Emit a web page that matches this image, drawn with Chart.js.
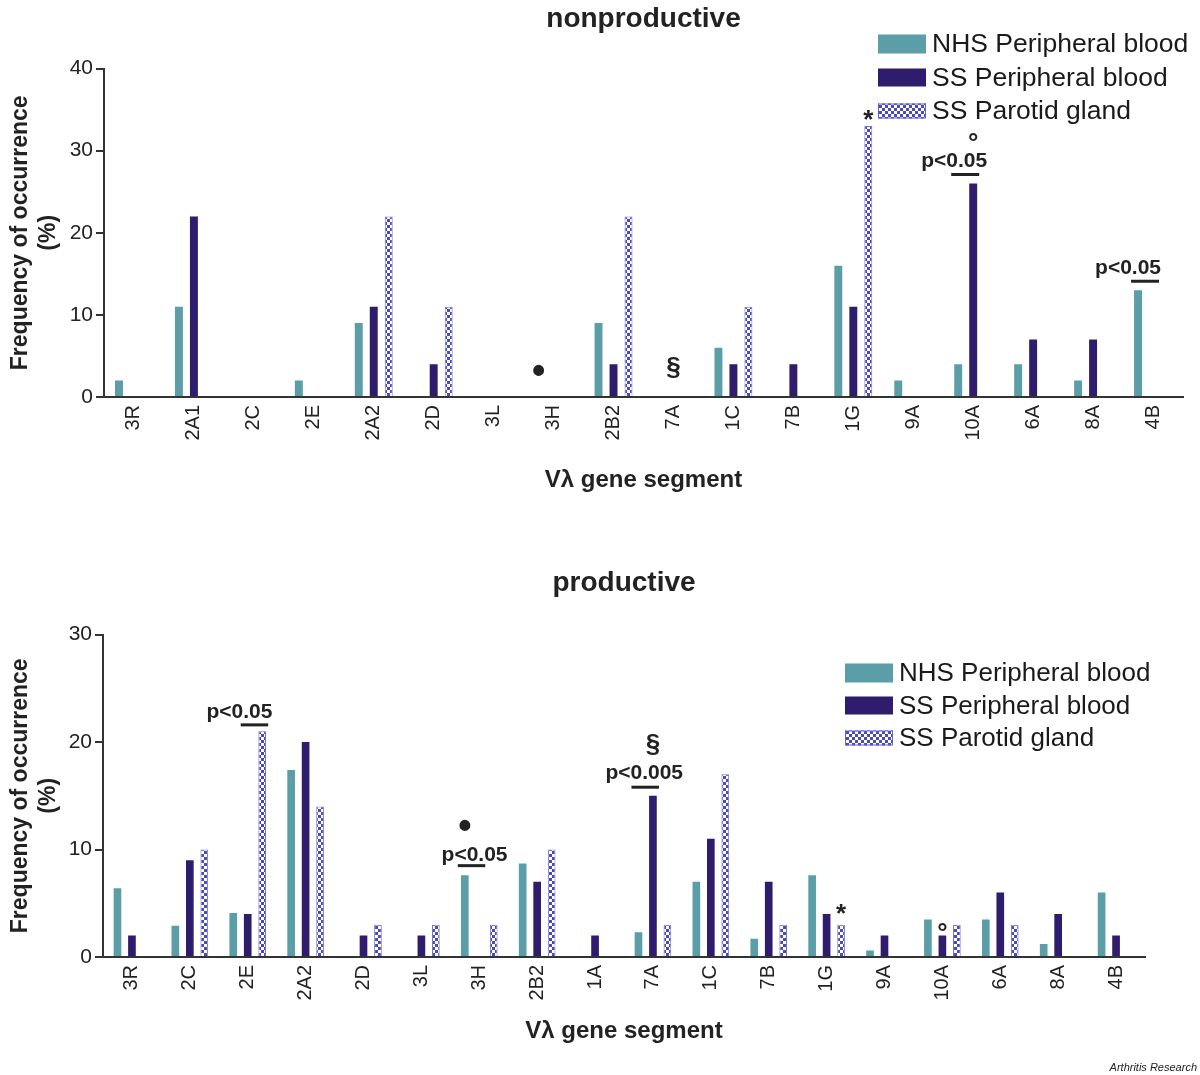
<!DOCTYPE html>
<html>
<head>
<meta charset="utf-8">
<script src="https://cdn.jsdelivr.net/npm/chart.js@4.4.0/dist/chart.umd.min.js"></script>
<style>
  body { margin: 0; background: #fff; }
  #wrap { position: relative; width: 1200px; height: 1075px; overflow: hidden; }
  #c1 { position: absolute; left: 0; top: 0; }
  #c2 { position: absolute; left: 0; top: 545px; }
  #credit { position: absolute; right: 3px; top: 1061px; font: italic 11px "Liberation Sans", Arial, sans-serif; color: #222; }
</style>
</head>
<body>
<div id="wrap">
  <canvas id="c1" width="1200" height="520"></canvas>
  <canvas id="c2" width="1200" height="530"></canvas>
  <div id="credit">Arthritis Research</div>
</div>
<script>
// series names (legend)
const seriesNames = ['NHS Peripheral blood', 'SS Peripheral blood', 'SS Parotid gland'];

// nonproductive rearrangements
const nonprodGenes = ['3R','2A1','2C','2E','2A2','2D','3L','3H','2B2','7A','1C','7B','1G','9A','10A','6A','8A','4B'];
const nonprodNHS     = [2, 11, 0, 2, 9, 0, 0, 0, 9, 0, 6, 0, 16, 2, 4, 4, 2, 13];
const nonprodSS      = [0, 22, 0, 0, 11, 4, 0, 0, 4, 0, 4, 4, 11, 0, 26, 7, 7, 0];
const nonprodParotid = [0, 0, 0, 0, 22, 11, 0, 0, 22, 0, 11, 0, 33, 0, 0, 0, 0, 0];
const nonprodTicks = [0, 10, 20, 30, 40];

// productive rearrangements
const prodGenes = ['3R','2C','2E','2A2','2D','3L','3H','2B2','1A','7A','1C','7B','1G','9A','10A','6A','8A','4B'];
const prodNHS     = [6.4, 2.9, 4.1, 17.4, 0, 0, 7.6, 8.7, 0, 2.3, 7, 1.7, 7.6, 0.6, 3.5, 3.5, 1.2, 6];
const prodSS      = [2, 9, 4, 20, 2, 2, 0, 7, 2, 15, 11, 7, 4, 2, 2, 6, 4, 2];
const prodParotid = [0, 10, 21, 14, 3, 3, 3, 10, 0, 3, 17, 3, 3, 0, 3, 3, 0, 0];
const prodTicks = [0, 10, 20, 30];

Chart.defaults.font.family = '"Liberation Sans", Arial, Helvetica, sans-serif';
Chart.defaults.color = '#222';

function checker() {
  const c = document.createElement('canvas');
  c.width = 6; c.height = 6;
  const g = c.getContext('2d');
  g.fillStyle = '#fff';
  g.fillRect(0, 0, 6, 6);
  g.fillStyle = '#4a4abd';
  g.fillRect(0, 0, 3, 3);
  g.fillRect(3, 3, 3, 3);
  return g.createPattern(c, 'repeat');
}

// significance marks, legend drawn on top of the bars
const notesPlugin = {
  id: 'notes',
  afterDatasetsDraw(chart, args, opts) {
    const ctx = chart.ctx;
    const y = chart.scales.y;
    const labels = chart.data.labels;
    const xOf = (cat, ds) => chart.getDatasetMeta(ds).data[labels.indexOf(cat)].x;
    ctx.save();
    ctx.fillStyle = '#222';
    ctx.strokeStyle = '#222';
    ctx.textAlign = 'center';
    ctx.textBaseline = 'middle';
    (opts.marks || []).forEach(m => {
      ctx.font = m.font;
      ctx.fillText(m.text, xOf(m.cat, m.ds) + (m.dx || 0), y.getPixelForValue(m.y));
    });
    (opts.pvals || []).forEach(p => {
      const x0 = xOf(p.cat, p.from) - 7, x1 = xOf(p.cat, p.to) + 6;
      const yy = y.getPixelForValue(p.barY);
      ctx.lineWidth = 3;
      ctx.beginPath();
      ctx.moveTo(x0, yy);
      ctx.lineTo(x1, yy);
      ctx.stroke();
      ctx.font = 'bold 21px "Liberation Sans", Arial, sans-serif';
      ctx.fillText(p.text, (x0 + x1) / 2 + p.dx, y.getPixelForValue(p.textY));
    });
    // legend
    const L = opts.legend;
    ctx.textAlign = 'left';
    ctx.font = L.font;
    chart.data.datasets.forEach((d, i) => {
      const cy = L.y + i * L.gap;
      const h = L.heights[i];
      ctx.fillStyle = d.backgroundColor;
      ctx.fillRect(L.x, cy - h / 2, 48, h);
      if (d.legendBorder) {
        ctx.strokeStyle = d.legendBorder;
        ctx.lineWidth = 1;
        ctx.strokeRect(L.x + 0.5, cy - h / 2 + 0.5, 47, h - 1);
      }
      ctx.fillStyle = '#1a1a1a';
      ctx.fillText(d.label, L.x + 54, cy + 1);
    });
    ctx.restore();
  }
};

function makeChart(id, genes, nhs, ss, par, ticks, title, cfg) {
  return new Chart(document.getElementById(id), {
    type: 'bar',
    data: {
      labels: genes,
      datasets: [
        { label: seriesNames[0], data: nhs, backgroundColor: '#5b9ea7', borderWidth: 0,
          categoryPercentage: 0.75, barPercentage: 0.53 },
        { label: seriesNames[1], data: ss, backgroundColor: '#2f1c6c', borderWidth: 0,
          categoryPercentage: 0.75, barPercentage: 0.53 },
        { label: seriesNames[2], data: par, backgroundColor: checker(), borderColor: '#7474d2',
          legendBorder: '#6262cc',
          borderWidth: c => (c.raw ? 1 : 0),
          categoryPercentage: 0.75, barPercentage: 0.53 }
      ]
    },
    options: {
      responsive: false,
      animation: false,
      layout: { padding: { left: 0, right: cfg.right, top: 0, bottom: 0 } },
      plugins: {
        legend: { display: false },
        tooltip: { enabled: false },
        title: {
          display: true, text: title, fullSize: false, color: '#222',
          font: { size: 28, weight: 'bold' },
          padding: cfg.titlePad
        },
        notes: cfg.notes
      },
      scales: {
        x: {
          grid: { display: false, drawTicks: false },
          border: { color: '#333', width: 2 },
          ticks: { color: '#222', font: { size: 20 }, minRotation: 90, maxRotation: 90, padding: 8, autoSkip: false },
          title: { display: true, text: 'Vλ gene segment', color: '#222',
                   font: { size: 24, weight: 'bold' }, padding: { top: 0, bottom: cfg.xTitleBottom } },
          afterFit: s => { s.height = cfg.xHeight; }
        },
        y: {
          min: ticks[0], max: ticks[ticks.length - 1],
          afterBuildTicks: s => { s.ticks = ticks.map(v => ({ value: v })); },
          grid: { display: true, drawOnChartArea: false, drawTicks: true, tickLength: 8, color: '#333', lineWidth: 2 },
          border: { color: '#333', width: 2 },
          ticks: { color: '#222', font: { size: 21 }, padding: 3 },
          title: { display: true, text: ['Frequency of occurrence', '(%)'], color: '#222',
                   font: { size: 23, weight: 'bold' }, padding: { top: 7, bottom: 0 } },
          afterFit: s => { s.width = cfg.yWidth; }
        }
      }
    },
    plugins: [notesPlugin]
  });
}

makeChart('c1', nonprodGenes, nonprodNHS, nonprodSS, nonprodParotid, nonprodTicks, 'nonproductive', {
  right: 17, yWidth: 104, xHeight: 123, xTitleBottom: 25,
  titlePad: { top: 2, bottom: 33 },
  notes: {
    marks: [
      { cat: '3H', ds: 0, y: 3.0, text: '•', font: 'bold 38px "Liberation Sans", Arial' },
      { cat: '7A', ds: 1, y: 3.5, text: '§', font: 'bold 26px "Liberation Sans", Arial' },
      { cat: '1G', ds: 2, y: 33.6, text: '*', font: 'bold 26px "Liberation Sans", Arial' },
      { cat: '10A', ds: 1, y: 30.85, text: '°', font: 'bold 26px "Liberation Sans", Arial' }
    ],
    pvals: [
      { cat: '10A', from: 0, to: 1, barY: 27.1, textY: 28.7, dx: -11, text: 'p<0.05' },
      { cat: '4B', from: 0, to: 1, barY: 14.1, textY: 15.7, dx: -17, text: 'p<0.05' }
    ],
    legend: { x: 878, y: 44, gap: 33.5, heights: [19, 18, 15], font: '26.5px "Liberation Sans", Arial, sans-serif' }
  }
});

makeChart('c2', prodGenes, prodNHS, prodSS, prodParotid, prodTicks, 'productive', {
  right: 55, yWidth: 103, xHeight: 118, xTitleBottom: 29,
  titlePad: { top: 21, bottom: 35 },
  notes: {
    marks: [
      { cat: '3H', ds: 0, y: 12.06, text: '•', font: 'bold 38px "Liberation Sans", Arial' },
      { cat: '7A', ds: 1, y: 19.7, text: '§', font: 'bold 26px "Liberation Sans", Arial' },
      { cat: '1G', ds: 2, y: 3.9, text: '*', font: 'bold 26px "Liberation Sans", Arial' },
      { cat: '10A', ds: 1, y: 2.2, text: '°', font: 'bold 26px "Liberation Sans", Arial' }
    ],
    pvals: [
      { cat: '2E', from: 1, to: 2, barY: 21.6, textY: 22.8, dx: -15, text: 'p<0.05' },
      { cat: '3H', from: 0, to: 1, barY: 8.5, textY: 9.5, dx: 3, text: 'p<0.05' },
      { cat: '7A', from: 0, to: 1, barY: 15.8, textY: 17.1, dx: -1, text: 'p<0.005' }
    ],
    legend: { x: 845, y: 128, gap: 32.5, heights: [19, 18, 15], font: '26px "Liberation Sans", Arial, sans-serif' }
  }
});
</script>
</body>
</html>
